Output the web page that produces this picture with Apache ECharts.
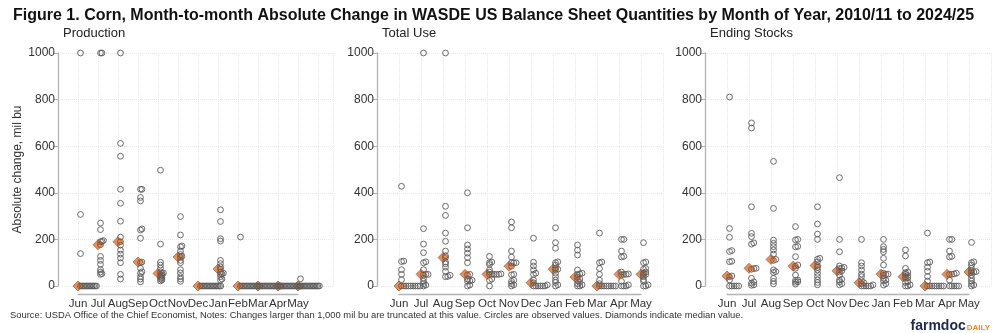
<!DOCTYPE html>
<html>
<head>
<meta charset="utf-8">
<script src="https://cdn.jsdelivr.net/npm/echarts@6/dist/echarts.min.js"></script>
<style>
html,body{margin:0;padding:0;background:#fff;}
#chart{width:1000px;height:333px;}
</style>
</head>
<body>
<div id="chart"></div>
<script>
// ---- data (mil bu), one list per month, Jun..May, 2010/11-2024/25 ----
const months = ['Jun','Jul','Aug','Sep','Oct','Nov','Dec','Jan','Feb','Mar','Apr','May'];
const panelTitles = ['Production','Total Use','Ending Stocks'];

const production = [
  [1000, 307, 139, 0, 0, 0, 0, 0, 0, 0, 0, 0, 0, 0, 0],
  [1000, 1000, 270, 242, 195, 192, 190, 177, 127, 110, 93, 70, 60, 53, 50],
  [1000, 612, 557, 415, 355, 278, 210, 190, 175, 154, 137, 120, 100, 50, 30],
  [415, 415, 380, 365, 245, 240, 205, 103, 100, 76, 61, 55, 40, 30, 18],
  [497, 180, 102, 90, 76, 61, 56, 54, 50, 45, 40, 35, 30, 26, 22],
  [298, 219, 172, 168, 150, 135, 128, 124, 110, 100, 70, 56, 40, 30, 20],
  [0, 0, 0, 0, 0, 0, 0, 0, 0, 0, 0, 0, 0, 0, 0],
  [327, 277, 203, 193, 110, 96, 82, 73, 60, 55, 52, 50, 40, 30, 25],
  [210, 0, 0, 0, 0, 0, 0, 0, 0, 0, 0, 0, 0, 0, 0],
  [0, 0, 0, 0, 0, 0, 0, 0, 0, 0, 0, 0, 0, 0, 0],
  [0, 0, 0, 0, 0, 0, 0, 0, 0, 0, 0, 0, 0, 0, 0],
  [31, 0, 0, 0, 0, 0, 0, 0, 0, 0, 0, 0, 0, 0, 0]
];

const totalUse = [
  [428, 107, 105, 70, 50, 27, 0, 0, 0, 0, 0, 0, 0, 0, 0],
  [1000, 246, 180, 143, 104, 100, 70, 50, 50, 48, 33, 20, 10, 4, 0],
  [1000, 342, 303, 227, 192, 150, 130, 122, 103, 95, 81, 63, 46, 41, 40],
  [400, 250, 176, 159, 141, 122, 100, 50, 48, 30, 25, 22, 20, 4, 0],
  [127, 103, 100, 92, 70, 60, 52, 50, 50, 50, 50, 50, 30, 24, 0],
  [275, 250, 150, 124, 100, 100, 100, 85, 50, 48, 25, 20, 10, 5, 0],
  [205, 102, 86, 69, 55, 50, 26, 14, 5, 0, 0, 0, 0, 0, 0],
  [250, 186, 162, 104, 100, 90, 77, 72, 70, 55, 40, 25, 15, 5, 0],
  [176, 154, 133, 69, 55, 52, 50, 38, 30, 25, 15, 10, 5, 0, 0],
  [227, 103, 100, 75, 50, 25, 10, 0, 0, 0, 0, 0, 0, 0, 0],
  [200, 200, 150, 127, 125, 60, 52, 50, 50, 48, 20, 5, 0, 0, 0],
  [186, 103, 100, 75, 72, 60, 55, 50, 48, 40, 27, 20, 5, 0, 0]
];

const endingStocks = [
  [811, 247, 209, 152, 148, 106, 104, 43, 40, 26, 0, 0, 0, 0, 0],
  [700, 678, 340, 226, 212, 185, 180, 76, 75, 72, 33, 18, 12, 5, 3],
  [535, 333, 197, 183, 169, 155, 137, 114, 110, 69, 62, 58, 33, 20, 9],
  [255, 200, 198, 170, 168, 126, 90, 85, 76, 47, 26, 24, 18, 16, 8],
  [340, 266, 223, 200, 119, 115, 104, 88, 80, 69, 54, 40, 26, 15, 5],
  [465, 200, 147, 86, 80, 77, 75, 65, 60, 47, 29, 25, 18, 10, 5],
  [200, 100, 86, 69, 51, 40, 23, 14, 10, 5, 0, 0, 0, 0, 0],
  [200, 169, 157, 147, 119, 90, 55, 51, 50, 45, 33, 25, 21, 10, 4],
  [155, 129, 76, 60, 57, 50, 45, 40, 35, 33, 18, 15, 5, 0, 0],
  [227, 103, 100, 81, 63, 41, 21, 0, 0, 0, 0, 0, 0, 0, 0],
  [200, 200, 150, 127, 125, 55, 52, 50, 50, 25, 0, 0, 0, 0, 0],
  [187, 104, 100, 90, 76, 65, 62, 60, 58, 47, 33, 21, 10, 4, 0]
];

const panelData = [production, totalUse, endingStocks];

// ---- layout ----
const panels = [
  {left: 58,  width: 275, max: 13.75, stepPx: 1.45},
  {left: 377, width: 286, max: 13,    stepPx: 2.3},
  {left: 705, width: 286, max: 13,    stepPx: 2.3}
];
const plotTop = 53, plotH = 233;
const narrow = "'Liberation Sans Narrow','Arial Narrow','Liberation Sans',sans-serif";
const sans = "'Liberation Sans',Arial,sans-serif";

function median(arr){
  const s = arr.slice().sort((a,b)=>a-b);
  const n = s.length;
  return n % 2 ? s[(n-1)/2] : (s[n/2-1]+s[n/2])/2;
}

// dot-plot stacking: near-equal values are placed side by side to the right
function dots(list, monthIdx, ppu, stepPx){
  const s = list.slice().sort((a,b)=>a-b);
  const out = [];
  let gStart = null, k = 0;
  const tol = 6;
  s.forEach(v => {
    if (gStart === null || v - gStart > tol) { gStart = v; k = 0; }
    out.push([monthIdx + 1 + (2.5 + k*stepPx)/ppu, v]);
    k++;
  });
  return out;
}

const grid = [], xAxis = [], yAxis = [], series = [], title = [];

panels.forEach((p, i) => {
  const ppu = p.width / p.max;
  grid.push({left: p.left, top: plotTop, width: p.width, height: plotH, containLabel: false});
  xAxis.push({
    type: 'value', gridIndex: i, min: 0, max: p.max, interval: 1,
    axisLine: {show: false}, axisTick: {show: false}, axisLabel: {show: false},
    splitLine: {show: true, lineStyle: {color: '#e9e9e9', type: 'dotted', width: 1}}
  });
  yAxis.push({
    type: 'value', gridIndex: i, min: 0, max: 1000, interval: 200,
    axisLine: {show: true, lineStyle: {color: '#b3b3b3', width: 1.3}},
    axisTick: {show: true, length: 4, lineStyle: {color: '#b3b3b3'}},
    axisLabel: {fontSize: 12, color: '#333', margin: 3, fontFamily: sans, formatter: v => String(v)},
    splitLine: {show: true, lineStyle: {color: '#e9e9e9', type: 'dotted', width: 1}},
    name: i === 0 ? 'Absolute change, mil bu' : '',
    nameLocation: 'middle', nameRotate: 90, nameGap: 34,
    nameTextStyle: {fontSize: 12, color: '#333', fontFamily: sans}
  });
  const lists = panelData[i];
  const med = lists.map((l, m) => [m + 1, median(l)]);
  let pts = [];
  lists.forEach((l, m) => { pts = pts.concat(dots(l, m, ppu, p.stepPx)); });
  series.push({
    type: 'scatter', xAxisIndex: i, yAxisIndex: i, data: med, z: 2,
    symbol: 'diamond', symbolSize: [10, 10],
    itemStyle: {color: '#EC6F23', borderColor: '#B24A14', borderWidth: 0.8},
    silent: true, animation: false
  });
  series.push({
    type: 'scatter', xAxisIndex: i, yAxisIndex: i, data: pts, z: 3,
    symbol: 'circle', symbolSize: 5.8,
    itemStyle: {color: 'rgba(0,0,0,0)', borderColor: '#5c5c5c', borderWidth: 1, opacity: 0.9},
    silent: true, animation: false
  });
  title.push({
    text: panelTitles[i], left: p.left + 5, top: 27, padding: 0,
    textStyle: {fontSize: 13, fontWeight: 'normal', color: '#222', fontFamily: sans}
  });
});

// month-label axes spanning Jun..May
panels.forEach((p, i) => {
  const ppu = p.width / p.max;
  const gi = 3 + i;
  grid.push({left: p.left + ppu, top: 293, width: 11 * ppu, height: 1});
  xAxis.push({
    type: 'value', gridIndex: gi, min: 1, max: 12, interval: 1,
    axisLine: {show: true, lineStyle: {color: '#b3b3b3', width: 1.3}},
    axisTick: {show: false}, splitLine: {show: false},
    axisLabel: {show: true, margin: 4, fontSize: 11.5, color: '#333', fontFamily: narrow,
      showMinLabel: true, showMaxLabel: true,
      formatter: v => months[Math.round(v) - 1] || ''}
  });
  yAxis.push({type: 'value', gridIndex: gi, min: 0, max: 1, show: false});
});

title.push({
  text: 'Figure 1. Corn, Month-to-month Absolute Change in WASDE US Balance Sheet Quantities by Month of Year, 2010/11 to 2024/25',
  left: 13, top: 8, padding: 0,
  textStyle: {fontSize: 16, fontWeight: 'bold', color: '#111', fontFamily: sans}
});
title.push({
  text: 'Source: USDA Office of the Chief Economist, Notes: Changes larger than 1,000 mil bu are truncated at this value. Circles are observed values. Diamonds indicate median value.',
  left: 10, top: 311, padding: 0,
  textStyle: {fontSize: 9.4, fontWeight: 'normal', color: '#333', fontFamily: narrow}
});
title.push({
  text: '{a|farmdoc}{b|DAILY}',
  right: 10, top: 319, padding: 0,
  textStyle: {
    rich: {
      a: {fontSize: 14, fontWeight: 'bold', color: '#1d2a4d', fontFamily: sans},
      b: {fontSize: 8, fontWeight: 'bold', color: '#F0882A', fontFamily: sans, padding: [3, 0, 0, 1]}
    }
  }
});

const chart = echarts.init(document.getElementById('chart'), null, {renderer: 'canvas'});
chart.setOption({
  backgroundColor: '#fff',
  animation: false,
  title, grid, xAxis, yAxis, series
});
</script>
</body>
</html>
